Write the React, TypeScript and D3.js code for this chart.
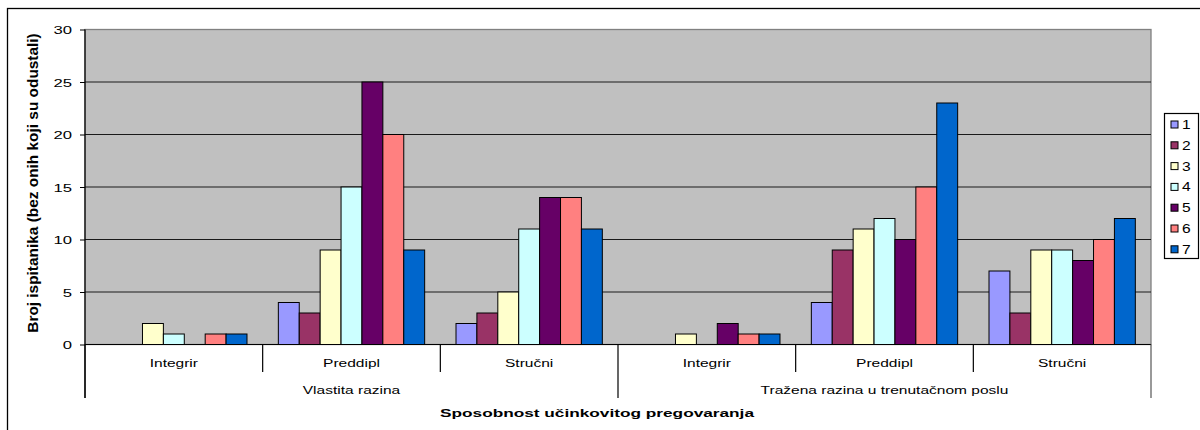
import * as d3 from 'd3';
import { useEffect, useRef } from 'react';

const outerGroups = ['Vlastita razina', 'Tražena razina u trenutačnom poslu'];
const innerGroups = ['Integrir', 'Preddipl', 'Stručni'];
const seriesNames = ['1', '2', '3', '4', '5', '6', '7'];
const seriesColours = ['#9999FF', '#993366', '#FFFFCC', '#CCFFFF', '#660066', '#FF8080', '#0066CC'];

// one value per category: Vlastita (Integrir, Preddipl, Stručni), Tražena (Integrir, Preddipl, Stručni)
const series1 = [0, 4, 2, 0, 4, 7];
const series2 = [0, 3, 3, 0, 9, 3];
const series3 = [2, 9, 5, 1, 11, 9];
const series4 = [1, 15, 11, 0, 12, 9];
const series5 = [0, 25, 14, 2, 10, 8];
const series6 = [1, 20, 14, 1, 15, 10];
const series7 = [1, 9, 11, 1, 23, 12];

const yTicks = [0, 5, 10, 15, 20, 25, 30];
const yTitle = 'Broj ispitanika (bez onih koji su odustali)';
const xTitle = 'Sposobnost učinkovitog pregovaranja';

const allSeries = [series1, series2, series3, series4, series5, series6, series7];

export default function App() {
  const ref = useRef<SVGSVGElement>(null);

  const width = 1200;
  const height = 430;
  const margin = { left: 85, right: 49, top: 29.5, bottom: 85.5 };

  useEffect(() => {
    const svg = d3.select(ref.current);
    svg.selectAll('*').remove();

    const plotRight = width - margin.right;
    const plotBottom = height - margin.bottom;
    const font = 'Liberation Sans, Arial, sans-serif';

    const categories = d3.range(outerGroups.length * innerGroups.length);
    const x0 = d3.scaleBand<number>().domain(categories).range([margin.left, plotRight]);
    const x1 = d3
      .scaleBand<string>()
      .domain(seriesNames)
      .range([0, x0.bandwidth()])
      .paddingInner(0)
      .paddingOuter(0.75);
    const y = d3.scaleLinear().domain([0, 30]).range([plotBottom, margin.top]);

    // outer chart border
    svg
      .append('rect')
      .attr('x', 7.5)
      .attr('y', 8.5)
      .attr('width', width)
      .attr('height', height)
      .attr('fill', 'white')
      .attr('stroke', 'black')
      .attr('stroke-width', 1.3);

    // plot area
    svg
      .append('rect')
      .attr('x', margin.left)
      .attr('y', margin.top)
      .attr('width', plotRight - margin.left)
      .attr('height', plotBottom - margin.top)
      .attr('fill', '#C0C0C0')
      .attr('stroke', '#808080')
      .attr('stroke-width', 1.3);

    // gridlines
    svg
      .append('g')
      .selectAll('line')
      .data(yTicks.filter((t) => t > 0 && t < 30))
      .join('line')
      .attr('x1', margin.left)
      .attr('x2', plotRight)
      .attr('y1', (d) => y(d))
      .attr('y2', (d) => y(d))
      .attr('stroke', '#1a1a1a')
      .attr('stroke-width', 1.2);

    // bars
    allSeries.forEach((values, si) => {
      svg
        .append('g')
        .attr('fill', seriesColours[si])
        .attr('stroke', 'black')
        .attr('stroke-width', 1)
        .selectAll('rect')
        .data(values.map((v, ci) => ({ v, ci })).filter((d) => d.v > 0))
        .join('rect')
        .attr('x', (d) => (x0(d.ci) ?? 0) + (x1(seriesNames[si]) ?? 0))
        .attr('y', (d) => y(d.v))
        .attr('width', x1.bandwidth())
        .attr('height', (d) => y(0) - y(d.v));
    });

    // y axis
    const yAxis = svg
      .append('g')
      .attr('transform', `translate(${margin.left}, 0)`)
      .call(d3.axisLeft(y).tickValues(yTicks).tickSize(5).tickFormat(d3.format('d')));
    yAxis.select('.domain').remove();
    yAxis.selectAll('.tick line').attr('stroke', 'black');
    yAxis
      .selectAll('.tick text')
      .attr('x', null)
      .attr('dy', '0.35em')
      .attr('transform', 'translate(-13,0) scale(1.45,1)')
      .attr('font-family', font)
      .attr('font-size', 11.5)
      .attr('fill', 'black');
    svg
      .append('line')
      .attr('x1', margin.left)
      .attr('x2', margin.left)
      .attr('y1', margin.top)
      .attr('y2', 398)
      .attr('stroke', 'black')
      .attr('stroke-width', 1.2);

    // category axis line
    svg
      .append('line')
      .attr('x1', margin.left)
      .attr('x2', plotRight)
      .attr('y1', plotBottom)
      .attr('y2', plotBottom)
      .attr('stroke', 'black')
      .attr('stroke-width', 1.2);

    // level 1 ticks and labels
    categories.forEach((ci) => {
      const x = x0(ci) ?? 0;
      const isOuter = ci % innerGroups.length === 0;
      svg
        .append('line')
        .attr('x1', x)
        .attr('x2', x)
        .attr('y1', plotBottom)
        .attr('y2', isOuter ? 398 : 372)
        .attr('stroke', 'black')
        .attr('stroke-width', 1.2);
      svg
        .append('text')
        .attr('transform', `translate(${x + x0.bandwidth() / 2}, 367) scale(1.35,1)`)
        .attr('text-anchor', 'middle')
        .attr('font-family', font)
        .attr('font-size', 11.5)
        .text(innerGroups[ci % innerGroups.length]);
    });
    svg
      .append('line')
      .attr('x1', plotRight)
      .attr('x2', plotRight)
      .attr('y1', plotBottom)
      .attr('y2', 398)
      .attr('stroke', '#555')
      .attr('stroke-width', 1.2);

    // level 2 labels
    outerGroups.forEach((g, gi) => {
      const start = x0(gi * innerGroups.length) ?? 0;
      const end = (x0((gi + 1) * innerGroups.length - 1) ?? 0) + x0.bandwidth();
      svg
        .append('text')
        .attr('transform', `translate(${(start + end) / 2}, 394) scale(1.35,1)`)
        .attr('text-anchor', 'middle')
        .attr('font-family', font)
        .attr('font-size', 11.5)
        .text(g);
    });

    // axis titles
    svg
      .append('text')
      .attr('transform', `translate(597, 417) scale(1.5,1)`)
      .attr('text-anchor', 'middle')
      .attr('font-family', font)
      .attr('font-weight', 'bold')
      .attr('font-size', 11.5)
      .text(xTitle);
    svg
      .append('text')
      .attr('transform', `translate(38, 183) rotate(-90) scale(1.4,1.3)`)
      .attr('text-anchor', 'middle')
      .attr('font-family', font)
      .attr('font-weight', 'bold')
      .attr('font-size', 11)
      .text(yTitle);

    // legend
    const legend = svg.append('g');
    legend
      .append('rect')
      .attr('x', 1164.5)
      .attr('y', 113.5)
      .attr('width', 34)
      .attr('height', 145)
      .attr('fill', 'white')
      .attr('stroke', 'black')
      .attr('stroke-width', 1.2);
    seriesNames.forEach((name, i) => {
      const cy = 124.5 + i * 20.8;
      legend
        .append('rect')
        .attr('x', 1171)
        .attr('y', cy - 3.5)
        .attr('width', 7)
        .attr('height', 7)
        .attr('fill', seriesColours[i])
        .attr('stroke', 'black')
        .attr('stroke-width', 1);
      legend
        .append('text')
        .attr('transform', `translate(1182, ${cy + 4.5}) scale(1.3,1)`)
        .attr('font-family', font)
        .attr('font-size', 12)
        .text(name);
    });
  }, []);

  return (
    <svg
      ref={ref}
      width={width}
      height={height}
      style={{ position: 'absolute', left: 0, top: 0, background: 'white' }}
    />
  );
}
